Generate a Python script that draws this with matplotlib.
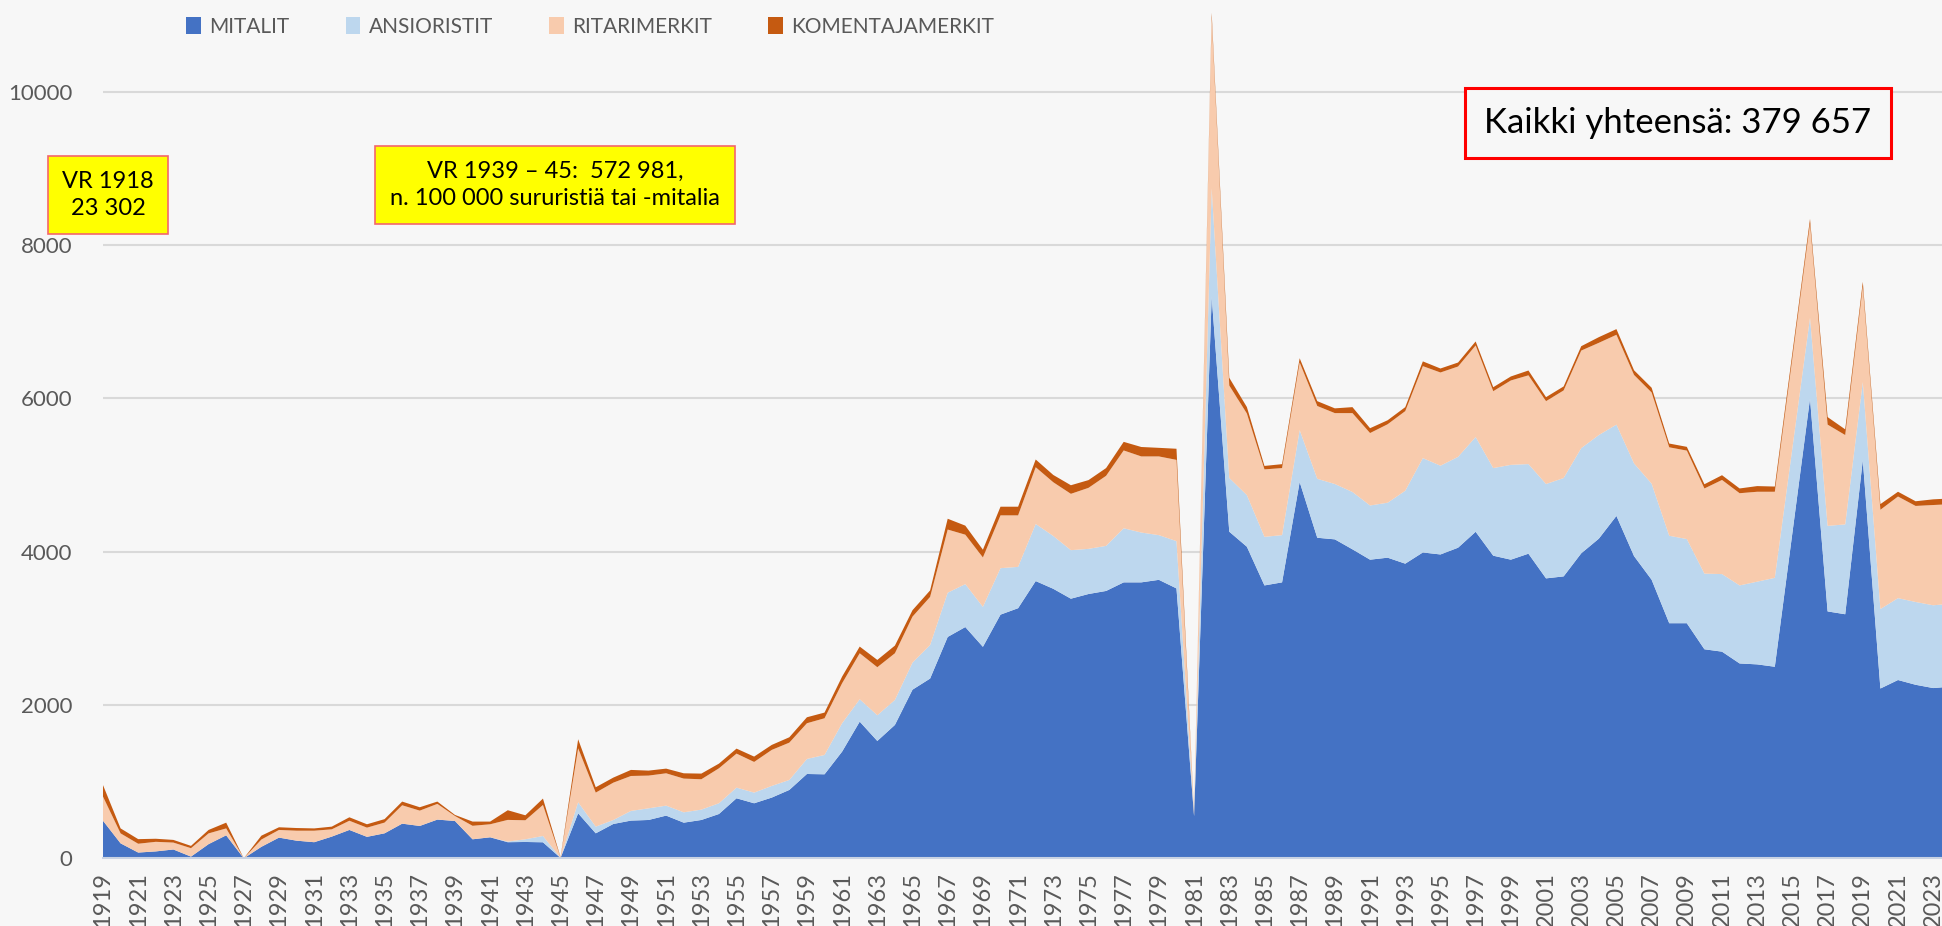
import matplotlib
matplotlib.use("Agg")
import matplotlib.pyplot as plt
from matplotlib.patches import Patch

years = list(range(1919, 2025))

mitalit = [
    490, 195, 75, 90, 115, 22, 185, 300, 0, 150,            # 1919-1928
    270, 230, 210, 283, 370, 280, 326, 452, 422, 505,       # 1929-1938
    487, 248, 274, 210, 213, 209, 5, 587, 326, 448,         # 1939-1948
    492, 500, 557, 465, 500, 578, 783, 718, 792, 892,       # 1949-1958
    1100, 1096, 1392, 1783, 1531, 1740, 2200, 2345, 2888, 3017,  # 1959-1968
    2759, 3179, 3263, 3617, 3516, 3387, 3448, 3488, 3600, 3600,  # 1969-1978
    3633, 3521, 550, 7327, 4261, 4065, 3560, 3600, 4910, 4182,   # 1979-1988
    4161, 4031, 3896, 3922, 3844, 3990, 3964, 4052, 4260, 3948,  # 1989-1998
    3896, 3974, 3652, 3678, 3979, 4170, 4467, 3943, 3634, 3067,  # 1999-2008
    3067, 2727, 2696, 2542, 2530, 2499, 4248, 5997, 3221, 3184,  # 2009-2018
    5195, 2215, 2326, 2264, 2221, 2240,                          # 2019-2024
]

ansioristit = [
    0, 0, 0, 0, 0, 0, 0, 0, 0, 0,
    0, 0, 0, 0, 0, 0, 0, 0, 0, 0,
    0, 0, 0, 8, 35, 82, 0, 144, 87, 52,
    126, 152, 130, 135, 135, 140, 139, 139, 152, 130,
    196, 252, 370, 292, 335, 326, 353, 437, 577, 560,
    521, 606, 539, 745, 689, 633, 589, 588, 706, 650,
    583, 617, 10, 1414, 701, 673, 634, 616, 676, 769,
    722, 748, 707, 717, 951, 1231, 1158, 1185, 1236, 1143,
    1237, 1169, 1231, 1283, 1372, 1352, 1191, 1209, 1253, 1141,
    1098, 987, 1012, 1018, 1079, 1160, 1107, 1055, 1116, 1172,
    1018, 1037, 1068, 1080, 1080, 1080,
]

ritarimerkit = [
    315, 130, 115, 125, 90, 110, 140, 90, 0, 95,
    100, 130, 150, 95, 120, 120, 140, 240, 200, 205,
    65, 176, 170, 283, 248, 405, 5, 704, 444, 487,
    456, 427, 422, 440, 396, 456, 444, 400, 470, 487,
    466, 479, 522, 600, 627, 609, 600, 628, 824, 645,
    645, 689, 672, 740, 701, 735, 796, 914, 1015, 993,
    1027, 1060, 20, 2230, 1206, 1065, 880, 875, 883, 950,
    925, 1029, 945, 1024, 1039, 1200, 1216, 1179, 1195, 1003,
    1101, 1158, 1081, 1143, 1273, 1203, 1172, 1154, 1190, 1154,
    1154, 1111, 1228, 1203, 1173, 1123, 1176, 1228, 1321, 1166,
    1247, 1295, 1326, 1253, 1308, 1300,
]

komentajamerkit = [
    150, 65, 60, 40, 35, 30, 45, 75, 0, 50,
    35, 35, 30, 35, 45, 44, 45, 48, 44, 30,
    14, 55, 35, 126, 65, 83, 5, 118, 70, 66,
    79, 65, 61, 69, 74, 61, 65, 70, 65, 70,
    78, 74, 87, 87, 95, 100, 84, 85, 141, 118,
    101, 113, 113, 101, 95, 112, 101, 101, 112, 123,
    112, 145, 9, 60, 101, 84, 45, 51, 55, 63,
    62, 78, 63, 52, 52, 62, 52, 52, 52, 52,
    52, 63, 52, 52, 57, 74, 74, 61, 62, 49,
    49, 55, 62, 62, 74, 68, 65, 62, 98, 74,
    61, 74, 62, 61, 74, 75,
]

series_names = ["MITALIT", "ANSIORISTIT", "RITARIMERKIT", "KOMENTAJAMERKIT"]
series_colors = ["#4472C4", "#BDD7EE", "#F8CBAD", "#C55A11"]
yticks = [0, 2000, 4000, 6000, 8000, 10000]

for s in (mitalit, ansioristit, ritarimerkit, komentajamerkit):
    assert len(s) == len(years), len(s)

plt.rcParams['font.family'] = ['Lato', 'DejaVu Sans']

W, H = 1942, 926
BG = "#F7F7F7"
fig = plt.figure(figsize=(W / 100, H / 100), dpi=100, facecolor=BG)

x0, base_y = 103, 858.3
ax = fig.add_axes([x0 / W, (H - base_y) / H, 1 - x0 / W, base_y / H])
ax.set_facecolor(BG)

ax.stackplot(years, mitalit, ansioristit, ritarimerkit, komentajamerkit,
             colors=series_colors, linewidth=0, zorder=2)

ax.set_xlim(1919, 2023.5)
ax.set_ylim(0, base_y / 0.07665)

ax.set_yticks(yticks)
ax.set_yticklabels([str(v) for v in yticks])
ax.yaxis.grid(True, color="#D9D9D9", linewidth=1.5, zorder=0)
ax.set_axisbelow(True)

ax.set_xticks(years[::2])
ax.set_xticklabels([str(y) for y in years[::2]], rotation=90, va="top")

ax.tick_params(axis="both", length=0, labelcolor="#595959")
ax.tick_params(axis="y", pad=22, labelsize=16)
ax.tick_params(axis="x", pad=10, labelsize=17)

for side in ("top", "right", "left"):
    ax.spines[side].set_visible(False)
ax.spines["bottom"].set_color("#C9D3E3")
ax.spines["bottom"].set_linewidth(1.5)
ax.spines["bottom"].set_zorder(3)

handles = [Patch(facecolor=c, edgecolor="none") for c in series_colors]
fig.legend(handles, series_names, loc="center", ncol=4,
           bbox_to_anchor=(590 / W, 1 - 27 / H), frameon=False,
           fontsize=15, labelcolor="#595959", handlelength=0.7,
           handleheight=0.9, handletextpad=0.4, columnspacing=2.7)

# annotation boxes
fig.text(108 / W, 1 - 195 / H, "VR 1918\n23 302", ha="center", va="center",
         fontsize=17, color="black", linespacing=1.35,
         bbox=dict(boxstyle="square,pad=0.62", facecolor="#FFFF00",
                   edgecolor="#F4666B", linewidth=1.2))
fig.text(555 / W, 1 - 185 / H,
         "VR 1939 \u2013 45:  572 981,\nn. 100 000 sururistiä tai -mitalia",
         ha="center", va="center", fontsize=17, color="black", linespacing=1.35,
         bbox=dict(boxstyle="square,pad=0.62", facecolor="#FFFF00",
                   edgecolor="#F4666B", linewidth=1.2))
fig.text(1678 / W, 1 - 123 / H, "Kaikki yhteensä: 379 657", ha="center",
         va="center", fontsize=25, color="black",
         bbox=dict(boxstyle="square,pad=0.55", facecolor=BG,
                   edgecolor="#FF0000", linewidth=2.2))

fig.savefig("out.png", dpi=100, facecolor=BG)
